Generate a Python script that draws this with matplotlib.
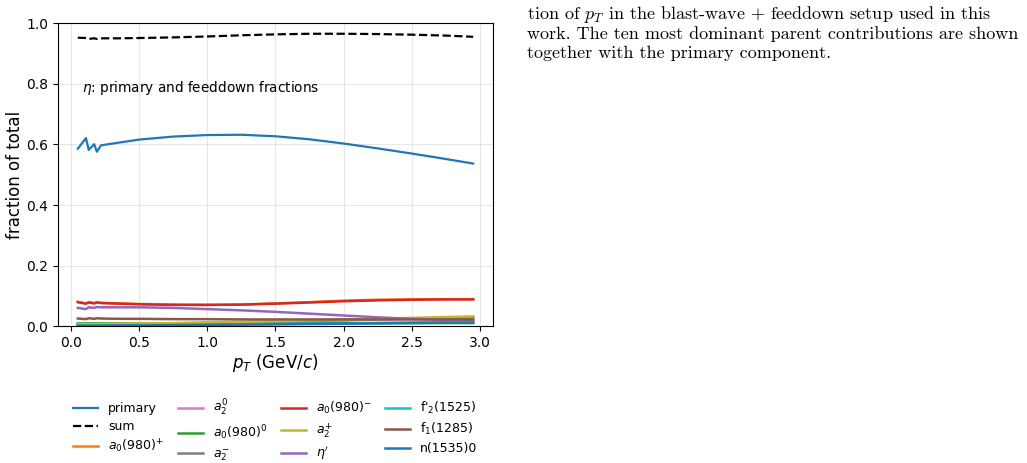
import matplotlib
matplotlib.use("Agg")
import matplotlib.pyplot as plt

# pT grid (GeV/c) shared by all curves
pt = [0.05, 0.11, 0.13, 0.17, 0.19, 0.22, 0.35, 0.5, 0.75, 1.0,
      1.25, 1.5, 1.75, 2.0, 2.25, 2.5, 2.75, 2.95]

primary = [0.586, 0.621, 0.582, 0.601, 0.576, 0.597, 0.606, 0.616, 0.626, 0.631,
           0.632, 0.627, 0.617, 0.603, 0.587, 0.570, 0.552, 0.537]
total = [0.952, 0.951, 0.948, 0.950, 0.948, 0.950, 0.950, 0.951, 0.953, 0.956,
         0.960, 0.963, 0.965, 0.965, 0.964, 0.962, 0.959, 0.955]

a0_plus = [0.081, 0.076, 0.080, 0.077, 0.080, 0.078, 0.076, 0.074, 0.072, 0.071,
           0.072, 0.076, 0.080, 0.085, 0.088, 0.089, 0.090, 0.090]
a0_minus = [0.080, 0.075, 0.079, 0.076, 0.079, 0.077, 0.075, 0.073, 0.071, 0.071,
            0.072, 0.075, 0.079, 0.083, 0.086, 0.088, 0.089, 0.089]
a0_zero = [0.010, 0.010, 0.010, 0.010, 0.010, 0.010, 0.010, 0.010, 0.010, 0.010,
           0.010, 0.010, 0.011, 0.011, 0.011, 0.011, 0.011, 0.011]
eta_prime = [0.061, 0.057, 0.063, 0.061, 0.064, 0.063, 0.063, 0.063, 0.061, 0.057,
             0.053, 0.048, 0.042, 0.036, 0.030, 0.025, 0.021, 0.018]
f1_1285 = [0.026, 0.024, 0.027, 0.025, 0.027, 0.026, 0.025, 0.025, 0.024, 0.024,
           0.023, 0.023, 0.023, 0.023, 0.023, 0.023, 0.023, 0.023]
a2_zero = [0.007, 0.007, 0.007, 0.007, 0.007, 0.007, 0.008, 0.009, 0.010, 0.012,
           0.014, 0.016, 0.019, 0.021, 0.024, 0.027, 0.029, 0.031]
a2_minus = [0.007, 0.007, 0.007, 0.007, 0.007, 0.007, 0.008, 0.009, 0.010, 0.011,
            0.013, 0.015, 0.018, 0.020, 0.023, 0.025, 0.027, 0.029]
a2_plus = [0.008, 0.008, 0.008, 0.008, 0.008, 0.008, 0.009, 0.010, 0.011, 0.013,
           0.015, 0.017, 0.020, 0.022, 0.025, 0.028, 0.031, 0.033]
f2p_1525 = [0.003, 0.003, 0.003, 0.003, 0.003, 0.003, 0.003, 0.004, 0.005, 0.006,
            0.007, 0.008, 0.009, 0.010, 0.011, 0.013, 0.014, 0.015]
n_1535 = [0.002, 0.002, 0.002, 0.002, 0.002, 0.002, 0.003, 0.003, 0.004, 0.005,
          0.006, 0.007, 0.008, 0.009, 0.010, 0.011, 0.012, 0.012]

# legend order (column-wise, 3 rows)
curves = [
    ("primary", primary, "#1f77b4", "-"),
    ("sum", total, "black", "--"),
    (r"$a_0(980)^{+}$", a0_plus, "#ff7f0e", "-"),
    (r"$a_2^{0}$", a2_zero, "#e377c2", "-"),
    (r"$a_0(980)^{0}$", a0_zero, "#2ca02c", "-"),
    (r"$a_2^{-}$", a2_minus, "#7f7f7f", "-"),
    (r"$a_0(980)^{-}$", a0_minus, "#d62728", "-"),
    (r"$a_2^{+}$", a2_plus, "#bcbd22", "-"),
    (r"$\eta'$", eta_prime, "#9467bd", "-"),
    ("f'$_2$(1525)", f2p_1525, "#17becf", "-"),
    ("f$_1$(1285)", f1_1285, "#8c564b", "-"),
    ("n(1535)0", n_1535, "#1f77b4", "-"),
]

fig = plt.figure(figsize=(10.27, 4.63), dpi=100)
ax = fig.add_axes([0.0565, 0.295, 0.4235, 0.655])

for label, vals, col, ls in curves:
    lw = 1.6 if label in ("primary", "sum") else 1.8
    ax.plot(pt, vals, color=col, linestyle=ls, lw=lw, label=label)

ax.set_ylim(0, 1.0)
ax.set_xlabel(r"$p_T$ (GeV/$c$)", fontsize=12, labelpad=1)
ax.set_ylabel("fraction of total", fontsize=12, labelpad=2)
ax.tick_params(labelsize=10)
ax.grid(True, alpha=0.3)
ax.text(0.055, 0.785, r"$\eta$: primary and feeddown fractions",
        transform=ax.transAxes, fontsize=9.8, va="center")

ax.legend(loc="upper center", bbox_to_anchor=(0.5, -0.2), ncol=4,
          frameon=False, fontsize=9, labelspacing=0.38, columnspacing=1.1)

# caption fragment on the right
cap = ["tion of $p_T$ in the blast-wave + feeddown setup used in this",
       "work. The ten most dominant parent contributions are shown",
       "together with the primary component."]
plt.rcParams["mathtext.fontset"] = "cm"
for i, line in enumerate(cap):
    fig.text(527 / 1027, 1 - (19 + 19.5 * i) / 463, line, family="cmr10",
             fontsize=13, va="baseline", ha="left")

fig.savefig("out.png", dpi=100)
